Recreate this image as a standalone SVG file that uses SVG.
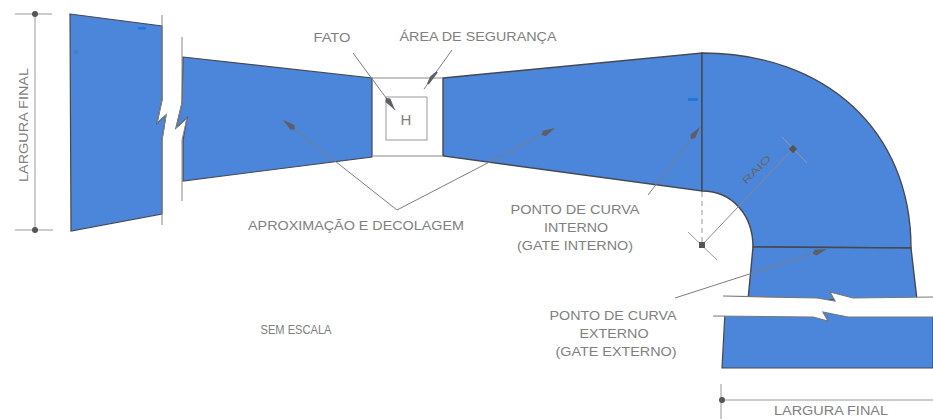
<svg xmlns="http://www.w3.org/2000/svg" width="933" height="419" viewBox="0 0 933 419">
<defs>
<marker id="ah" markerWidth="16" markerHeight="8" refX="15" refY="4" orient="auto" markerUnits="userSpaceOnUse"><path d="M0,4 L3,1 L15,4 L3,7 Z" fill="#5c5f66"/></marker>
</defs>
<style>
.area{fill:#4c86da;stroke:#45494f;stroke-width:1.4}
.ln{fill:none;stroke:#888;stroke-width:1}
.ld{fill:none;stroke:#7b7d80;stroke-width:1;marker-end:url(#ah)}
.tk{fill:none;stroke:#999;stroke-width:1}
.br{fill:#fff;stroke:none}
.bl{fill:none;stroke:#777;stroke-width:1.2}
text{font-family:"Liberation Sans",Arial,sans-serif;font-size:13.5px;fill:#808080;text-anchor:middle}
</style>
<rect width="933" height="419" fill="#fff"/>
<g id="area-final-esquerda">
<path class="area" style="stroke-width:1.2" d="M70,14 L162,26 V100 L157,123 L166,115 L162,140 V214 L71,231 Z"/>
<rect x="138" y="27" width="8" height="2.5" fill="#1f78d8"/>
<rect x="74" y="50" width="4" height="4" fill="#3d80d8"/>
</g>
<g id="area-aproximacao-esquerda">
<path class="area" style="stroke-width:1.2" d="M183,57 L372,78 L372,157 L183,181 V140 L187,118 L176,128 L182,103 Z"/>
</g>
<g id="area-seguranca">
<path class="ln" d="M372,78 H442 M373,156 H442"/>
</g>
<g id="fato">
<rect x="386" y="97" width="41" height="43" fill="#fff" stroke="#999" stroke-width="1"/>
<text x="406" y="125" style="font-size:15px">H</text>
</g>
<g id="area-aproximacao-direita">
<path class="area" d="M443,78 L702,53 L702,191 L443,156 Z"/>
<rect x="688" y="98" width="10" height="3" fill="#1f78d8"/>
</g>
<g id="area-curva">
<path class="area" d="M702,53 C825,53 911,130 911,248 L753,247 C753,215 732,191 702,191 Z"/>
</g>
<g id="area-saida">
<path class="area" d="M753,247 L911,248 L917,300 L748,300 Z"/>
<path class="area" d="M725,312 L933,312 L933,368 L722,368 Z" style="stroke-width:1.2"/>
<path class="br" d="M705,296 L817,298 L835,301 L830,292 L853,298 L933,297 L933,317 L848,317 L823,312 L828,321 L813,317 L705,316 Z"/>
<path class="bl" d="M723,296 L817,298 L835,301 L830,292 L853,298 L933,297"/>
<path class="bl" d="M713,316 L813,317 L828,321 L823,312 L848,317 L933,317"/>
</g>
<g id="quebras">
<path class="ln" d="M162,15 V100 L157,123 L166,115 L162,140 V225"/>
<path class="ln" d="M182,37 V103 L176,128 L187,118 L182,140 V201"/>
</g>
<g id="connectors">
<path class="ld" d="M353,53 L395,110"/>
<path class="ld" d="M452,50 L424,89" style="marker-end:none"/>
<path d="M437,72 L428,84 L431,77 Z" fill="#5c5f66" stroke="#5c5f66" stroke-width="2"/>
<path class="ld" d="M397,210 L283,120"/>
<path class="ld" d="M397,210 L555,128"/>
<path class="ld" d="M648,195 L700,127"/>
<path class="ld" d="M675,298 L827,249"/>
<path class="tk" style="stroke-dasharray:5 4" d="M702,192 V245"/>
<path class="ln" d="M702,245 L793,149"/>
<path class="tk" d="M782,137 L807,163 M688,232 L717,260"/>
<rect x="699" y="242" width="6" height="6" fill="#555"/>
<rect x="790" y="146" width="6" height="6" fill="#555" transform="rotate(45 793 149)"/>
<path class="tk" d="M35,13 V230 M15,14 H52 M15,230 H53"/>
<circle cx="35" cy="14" r="3" fill="#555"/>
<circle cx="35" cy="230" r="3" fill="#555"/>
<path class="tk" d="M721,384 V419 M722,400 H933"/>
<circle cx="722" cy="400" r="3" fill="#555"/>
</g>
<g id="labels">
<text transform="translate(28,125) rotate(-90)" textLength="114" lengthAdjust="spacingAndGlyphs">LARGURA FINAL</text>
<text x="332" y="42" textLength="37" lengthAdjust="spacingAndGlyphs">FATO</text>
<text x="478" y="41" textLength="157" lengthAdjust="spacingAndGlyphs">ÁREA DE SEGURANÇA</text>
<text x="356" y="230" textLength="216" lengthAdjust="spacingAndGlyphs">APROXIMAÇÃO E DECOLAGEM</text>
<text x="575" y="214" textLength="129" lengthAdjust="spacingAndGlyphs">PONTO DE CURVA</text>
<text x="576" y="232" textLength="64" lengthAdjust="spacingAndGlyphs">INTERNO</text>
<text x="575" y="250" textLength="116" lengthAdjust="spacingAndGlyphs">(GATE INTERNO)</text>
<text transform="translate(759,172) rotate(-45)" style="font-size:10px;fill:#666" textLength="36" lengthAdjust="spacingAndGlyphs">RAIO</text>
<text x="613" y="320" textLength="127" lengthAdjust="spacingAndGlyphs">PONTO DE CURVA</text>
<text x="614" y="338" textLength="69" lengthAdjust="spacingAndGlyphs">EXTERNO</text>
<text x="616" y="356" textLength="121" lengthAdjust="spacingAndGlyphs">(GATE EXTERNO)</text>
<text x="296" y="334" style="font-size:12px" textLength="71" lengthAdjust="spacingAndGlyphs">SEM ESCALA</text>
<text x="831" y="415" style="font-size:12px" textLength="114" lengthAdjust="spacingAndGlyphs">LARGURA FINAL</text>
</g>
</svg>
